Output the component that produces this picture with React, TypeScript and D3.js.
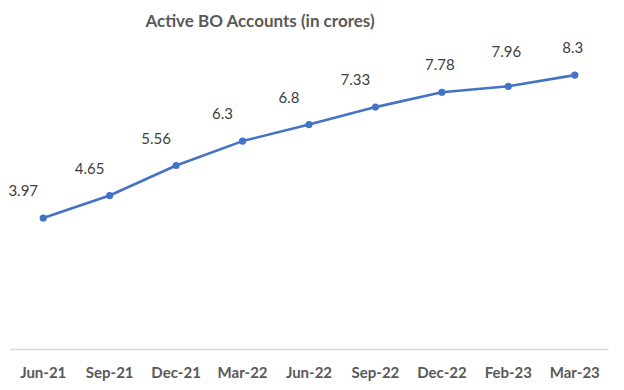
import React, { useEffect, useRef } from "react";
import * as d3 from "d3";

// chart data
const categories = ["Jun-21", "Sep-21", "Dec-21", "Mar-22", "Jun-22", "Sep-22", "Dec-22", "Feb-23", "Mar-23"];
const accounts = [3.97, 4.65, 5.56, 6.3, 6.8, 7.33, 7.78, 7.96, 8.3];
const valueLabels = ["3.97", "4.65", "5.56", "6.3", "6.8", "7.33", "7.78", "7.96", "8.3"];

const WIDTH = 624;
const HEIGHT = 390;

const App = () => {
  const chartRef = useRef<SVGSVGElement>(null);

  useEffect(() => {
    drawChart();
  }, []);

  const drawChart = () => {
    const svg = d3.select(chartRef.current);
    svg.selectAll("*").remove();

    const margin = { top: 52, right: 16, bottom: 41, left: 10 };

    const xScale = d3.scaleBand()
      .domain(categories)
      .range([margin.left, WIDTH - margin.right]);

    const yScale = d3.scaleLinear()
      .domain([0, 9])
      .range([HEIGHT - margin.bottom, margin.top]);

    const cx = (i: number) => xScale(categories[i])! + xScale.bandwidth() / 2;

    // title
    svg.append("text")
      .attr("x", 260)
      .attr("y", 27)
      .attr("text-anchor", "middle")
      .attr("font-family", "Lato, 'Open Sans', sans-serif")
      .attr("font-weight", "bold")
      .attr("font-size", 17)
      .attr("fill", "#595959")
      .text("Active BO Accounts (in crores)");

    // x axis
    const xAxis = svg.append("g")
      .attr("transform", `translate(0, ${yScale(0)})`)
      .call(d3.axisBottom(xScale).tickSize(0).tickPadding(18));
    xAxis.select(".domain").attr("stroke", "#D9D9D9").attr("stroke-width", 1.3);
    xAxis.selectAll("text")
      .attr("font-family", "Lato, 'Open Sans', sans-serif")
      .attr("font-weight", "bold")
      .attr("font-size", 15)
      .attr("fill", "#595959");

    // line
    svg.append("path")
      .datum(accounts)
      .attr("fill", "none")
      .attr("stroke", "#4472C4")
      .attr("stroke-width", 2.6)
      .attr("stroke-linejoin", "round")
      .attr("d", d3.line<number>()
        .x((d, i) => cx(i))
        .y(d => yScale(d))
      );

    // markers
    svg.selectAll(".marker")
      .data(accounts)
      .enter().append("circle")
      .attr("class", "marker")
      .attr("cx", (d, i) => cx(i))
      .attr("cy", d => yScale(d))
      .attr("r", 3.6)
      .attr("fill", "#4472C4");

    // value labels, early ones sit up-left of the line, last ones right above
    svg.selectAll(".value-label")
      .data(accounts)
      .enter().append("text")
      .attr("class", "value-label")
      .attr("x", (d, i) => cx(i) + (i < 6 ? -20 : -2))
      .attr("y", (d, i) => yScale(d) - (i === 7 ? 29 : 22))
      .attr("text-anchor", "middle")
      .attr("font-family", "Lato, 'Open Sans', sans-serif")
      .attr("font-size", 15)
      .attr("fill", "#404040")
      .text((d, i) => valueLabels[i]);
  };

  return (
    <>
      <style>{`body { margin: 0; background: #fff; }`}</style>
      <svg ref={chartRef} width={WIDTH} height={HEIGHT} style={{ display: "block" }} />
    </>
  );
};

export default App;
